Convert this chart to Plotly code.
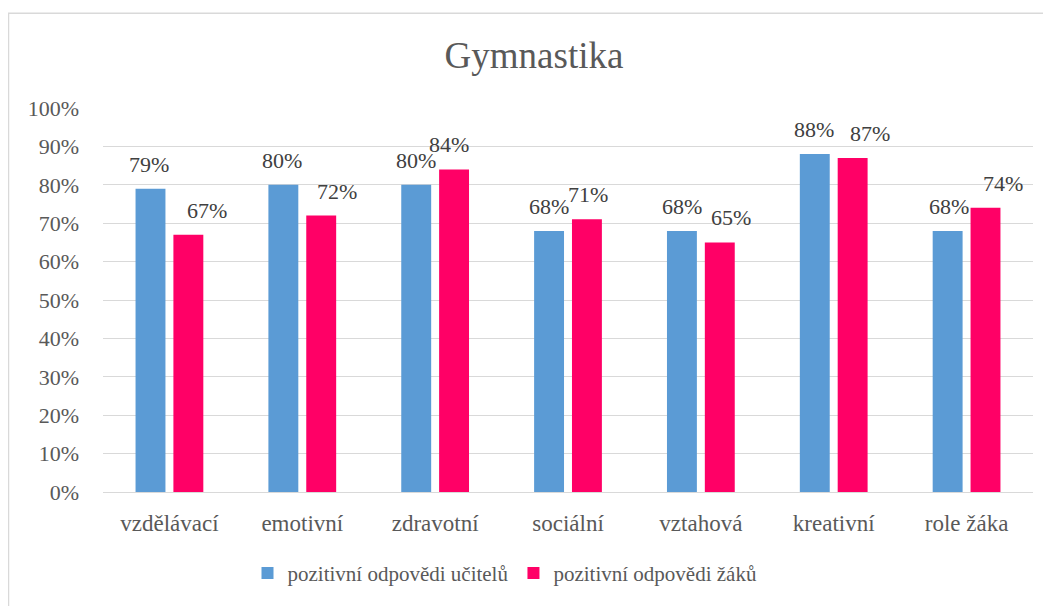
import plotly.graph_objects as go

categories = ["vzdělávací", "emotivní", "zdravotní", "sociální", "vztahová", "kreativní", "role žáka"]
teachers = [0.79, 0.80, 0.80, 0.68, 0.68, 0.88, 0.68]
students = [0.67, 0.72, 0.84, 0.71, 0.65, 0.87, 0.74]
series_names = ["pozitivní odpovědi učitelů", "pozitivní odpovědi žáků"]
tick_vals = [i / 10 for i in range(11)]
tick_text = [f"{i * 10}%" for i in range(11)]

# horizontal nudges of the data labels (pixels), as placed in the original
teacher_label_nudge = [-1, -1, 0, 0, 0, -1, 1]
student_label_nudge = [19, 16, -5, 1, 11, 17, 17]

FONT = "Liberation Serif"
GREY = "#595959"
LABEL = "#404040"
COLORS = ["#5B9BD5", "#FF0066"]

OFF = 8  # default body margin of the html page
W, H = 1051 - OFF, 606 - OFF
L, R, T, B = 103 - OFF, 1051 - 1033, 108 - OFF, 606 - 495
pw, ph = W - L - R, H - T - B

BARGAP, GROUPGAP = 0.43, 0.21
slot_px = pw / len(categories) * (1 - BARGAP) / 2

fig = go.Figure()
for name, vals, color in zip(series_names, [teachers, students], COLORS):
    fig.add_trace(go.Bar(x=categories, y=vals, name=name, marker_color=color, marker_line_width=0))

for vals, nudges, side in [(teachers, teacher_label_nudge, -0.5), (students, student_label_nudge, 0.5)]:
    for c, v, n in zip(categories, vals, nudges):
        fig.add_annotation(x=c, y=v, xref="x", yref="y", text=f"{round(v * 100)}%", showarrow=False,
                           xanchor="center", yanchor="middle", xshift=side * slot_px + n, yshift=24.5,
                           font=dict(family=FONT, size=22, color=LABEL))

fig.update_layout(
    width=W, height=H,
    margin=dict(l=L, r=R, t=T, b=B),
    paper_bgcolor="white", plot_bgcolor="white",
    font=dict(family=FONT, color=GREY, size=21),
    barmode="group", bargap=BARGAP, bargroupgap=GROUPGAP,
    title=dict(text="Gymnastika", x=(534 - OFF) / W, xanchor="center", y=1 - (55 - OFF) / H, yanchor="middle",
               font=dict(family=FONT, size=37, color=GREY)),
    legend=dict(orientation="h", x=(505 - 103) / pw, xanchor="center", y=(495 - 577) / ph, yanchor="middle",
                font=dict(family=FONT, size=21, color=GREY), traceorder="normal", itemwidth=30),
    xaxis=dict(showgrid=False, showline=True, linecolor="#d9d9d9", linewidth=1, ticks="",
               tickfont=dict(family=FONT, size=23, color=GREY), ticklabelstandoff=10),
    yaxis=dict(range=[0, 1], tickvals=tick_vals, ticktext=tick_text, showgrid=True,
               gridcolor="#d9d9d9", gridwidth=1, zeroline=False, showline=False,
               tickfont=dict(family=FONT, size=22, color=GREY), ticklabelstandoff=23),
    shapes=[dict(type="rect", xref="paper", yref="paper",
                 x0=(8.5 - 103) / pw, x1=(1080 - 103) / pw,
                 y0=-(B + 40) / ph, y1=(495 - 12.5) / ph,
                 line=dict(color="#d9d9d9", width=1.5), layer="below")],
)

fig.write_html("out.html")
